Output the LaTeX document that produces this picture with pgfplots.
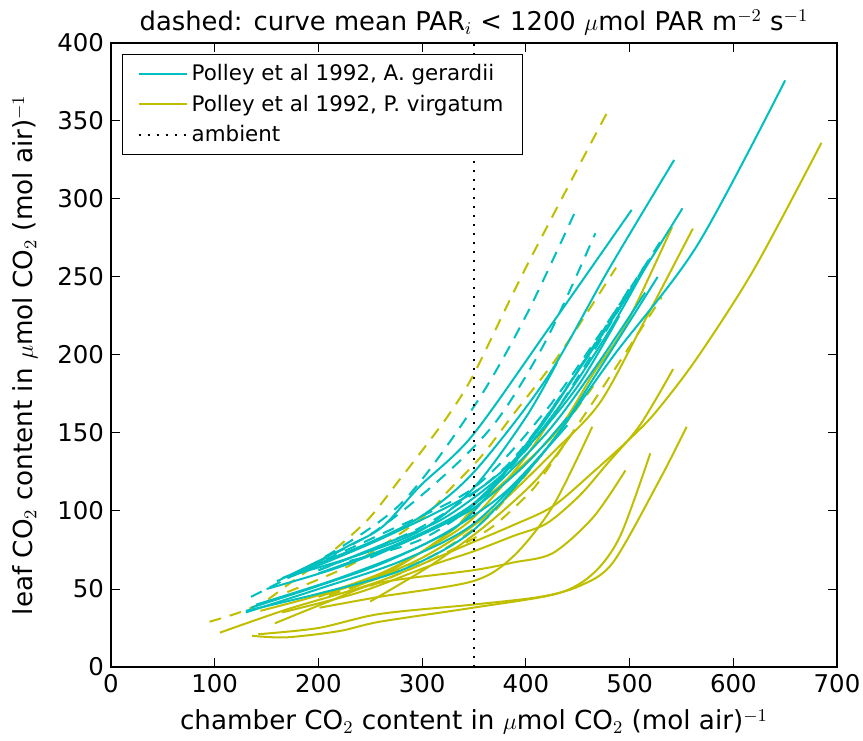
\documentclass[border=0pt]{standalone}
\usepackage{fontspec}
\setmainfont{DejaVu Sans}
\usepackage{pgfplots}
\pgfplotsset{compat=1.18}
\definecolor{cc}{rgb}{0,0.75,0.75}
\definecolor{yy}{rgb}{0.75,0.75,0}
\begin{document}
\begin{tikzpicture}
\useasboundingbox (-55.5pt,-36.5pt) rectangle (376pt,333.5pt);
\begin{axis}[
  scale only axis, width=363pt, height=312pt,
  xmin=0, xmax=700, ymin=0, ymax=400,
  xtick={0,100,...,700}, ytick={0,50,...,400},
  tick align=inside, major tick length=4.5pt,
  axis line style={line width=1pt},
  every tick/.style={black, line width=0.5pt},
  /pgf/number format/assume math mode=true,
  tick label style={font=\fontsize{12.2}{14}\selectfont},
  label style={font=\fontsize{13.1}{15}\selectfont},
  xlabel style={at={(axis description cs:0.5,-0.088)}, anchor=center},
  ylabel style={at={(axis description cs:-0.1185,0.5)}, anchor=center},
  xlabel={chamber CO$_2$ content in $\mu$mol CO$_2$ (mol air)$^{-1}$},
  ylabel={leaf CO$_2$ content in $\mu$mol CO$_2$ (mol air)$^{-1}$},
  legend style={at={(axis description cs:0.0151,0.983)}, anchor=north west, draw=black, line width=0.75pt,
    font=\fontsize{10.7}{13}\selectfont, row sep=1.6pt, inner xsep=7.5pt, inner ysep=3pt},
  legend cell align=left,
  legend image code/.code={\draw[#1] (0pt,0pt) -- (16.5pt,0pt); \path (0pt,0pt) -- (24pt,0pt);},
  every axis plot/.append style={line width=1pt},
]
\addlegendimage{cc, solid, line width=1pt}
\addlegendentry{Polley et al 1992, A. gerardii}
\addlegendimage{yy, solid, line width=1pt}
\addlegendentry{Polley et al 1992, P. virgatum}
\addlegendimage{black, line width=1pt, dash pattern=on 1pt off 3.5pt}
\addlegendentry{ambient}

% ---------- P. virgatum, solid ----------
\addplot[yy, smooth, forget plot] coordinates {(105,22) (170,37) (259,55) (349,80) (388,91) (426,103) (465,125) (503,148) (526,164) (565,198) (620,255) (685,336)};
\addplot[yy, smooth, forget plot] coordinates {(136,20) (169,19) (220,23) (259,29) (349,38) (430,47) (465,60) (491,84) (520,137)};
\addplot[yy, smooth, forget plot] coordinates {(142,21) (200,25) (259,34) (349,40) (414,45) (452,52) (484,67) (529,120) (555,154)};
\addplot[yy, smooth, forget plot] coordinates {(158,28) (210,42) (259,54) (349,62) (388,67) (426,73) (465,96) (496,126)};
\addplot[yy, smooth, forget plot] coordinates {(201,38) (259,45) (349,55) (388,71) (426,103) (464,154)};
\addplot[yy, smooth, forget plot] coordinates {(165,35) (240,48) (308,65) (349,74) (388,84) (420,92) (452,110) (478,130) (510,155) (542,191)};
\addplot[yy, smooth, forget plot] coordinates {(200,45) (270,62) (330,88) (346,99) (426,148) (465,188) (497,220) (541,282)};
\addplot[yy, smooth, forget plot] coordinates {(230,50) (300,70) (362,97) (430,140) (472,170) (513,220) (561,281)};
\addplot[yy, smooth, forget plot] coordinates {(144,36) (200,46) (260,60) (308,77) (350,96) (400,135) (440,175)};
\addplot[yy, smooth, forget plot] coordinates {(250,42) (308,65) (360,90) (410,120) (445,150)};
% ---------- P. virgatum, dashed ----------
\addplot[yy, smooth, dash pattern=on 6pt off 4.5pt, forget plot] coordinates {(95,29) (124,35) (148,42) (169,52) (206,70) (247,94) (277,119) (306,144) (327,163) (350,188) (400,256) (478,355)};
\addplot[yy, smooth, dash pattern=on 6pt off 4.5pt, forget plot] coordinates {(170,48) (230,65) (280,86) (308,100) (324,112) (357,135) (388,162) (433,201) (487,256)};
\addplot[yy, smooth, dash pattern=on 6pt off 4.5pt, forget plot] coordinates {(250,52) (300,66) (343,80) (370,91) (404,112) (420,126) (470,175) (531,237)};
\addplot[yy, smooth, dash pattern=on 6pt off 4.5pt, forget plot] coordinates {(210,46) (270,60) (320,75) (370,100) (420,140) (465,180)};
% ---------- A. gerardii, solid ----------
\addplot[cc, smooth, forget plot] coordinates {(130,36) (200,47) (280,62) (350,88) (420,140) (484,199) (565,270) (650,376)};
\addplot[cc, smooth, forget plot] coordinates {(173,59) (230,78) (262,90) (298,116) (348,148) (421,216) (502,293)};
\addplot[cc, smooth, forget plot] coordinates {(165,57) (250,80) (300,97) (350,125) (420,185) (480,255) (543,325)};
\addplot[cc, smooth, forget plot] coordinates {(140,40) (220,57) (300,78) (350,100) (430,170) (500,240) (551,294)};
\addplot[cc, smooth, forget plot] coordinates {(130,35) (200,50) (280,68) (350,92) (420,140) (470,190) (527,250)};
\addplot[cc, smooth, forget plot] coordinates {(170,57) (260,82) (350,112) (400,140) (450,180) (490,225)};
\addplot[cc, smooth, forget plot] coordinates {(200,60) (280,80) (350,105) (410,150) (460,200) (500,240)};
\addplot[cc, smooth, forget plot] coordinates {(170,58) (240,72) (300,88) (350,115) (400,160) (430,195)};
\addplot[cc, smooth, forget plot] coordinates {(150,50) (220,64) (300,85) (350,104) (420,150) (470,195) (515,240)};
\addplot[cc, smooth, forget plot] coordinates {(250,70) (300,85) (350,102) (400,130) (440,160)};
\addplot[cc, smooth, forget plot] coordinates {(200,62) (260,78) (320,95) (380,125) (430,165) (480,215) (520,262)};
\addplot[cc, smooth, forget plot] coordinates {(135,38) (200,52) (260,66) (320,85) (380,112) (440,155)};
% ---------- A. gerardii, dashed ----------
\addplot[cc, smooth, dash pattern=on 6pt off 4.5pt, forget plot] coordinates {(135,45) (200,68) (280,105) (351,168) (400,225) (449,294)};
\addplot[cc, smooth, dash pattern=on 6pt off 4.5pt, forget plot] coordinates {(160,55) (250,85) (320,122) (372,158) (420,210) (467,278)};
\addplot[cc, smooth, dash pattern=on 6pt off 4.5pt, forget plot] coordinates {(170,58) (260,85) (350,115) (420,165) (480,222) (530,273)};
\addplot[cc, smooth, dash pattern=on 6pt off 4.5pt, forget plot] coordinates {(200,62) (300,90) (380,128) (440,180) (502,245)};
\addplot[cc, smooth, dash pattern=on 6pt off 4.5pt, forget plot] coordinates {(230,68) (300,82) (360,110) (430,165) (517,260)};
% ---------- ambient ----------
\addplot[black, line width=1pt, dash pattern=on 1pt off 3.5pt, forget plot] coordinates {(350,0) (350,400)};
\end{axis}
\node[anchor=base, yshift=6.2pt, font=\fontsize{12.9}{15}\selectfont] at (current axis.north)
  {dashed: curve mean PAR$_i$ < 1200 $\mu$mol PAR m$^{-2}$ s$^{-1}$};
\end{tikzpicture}
\end{document}
